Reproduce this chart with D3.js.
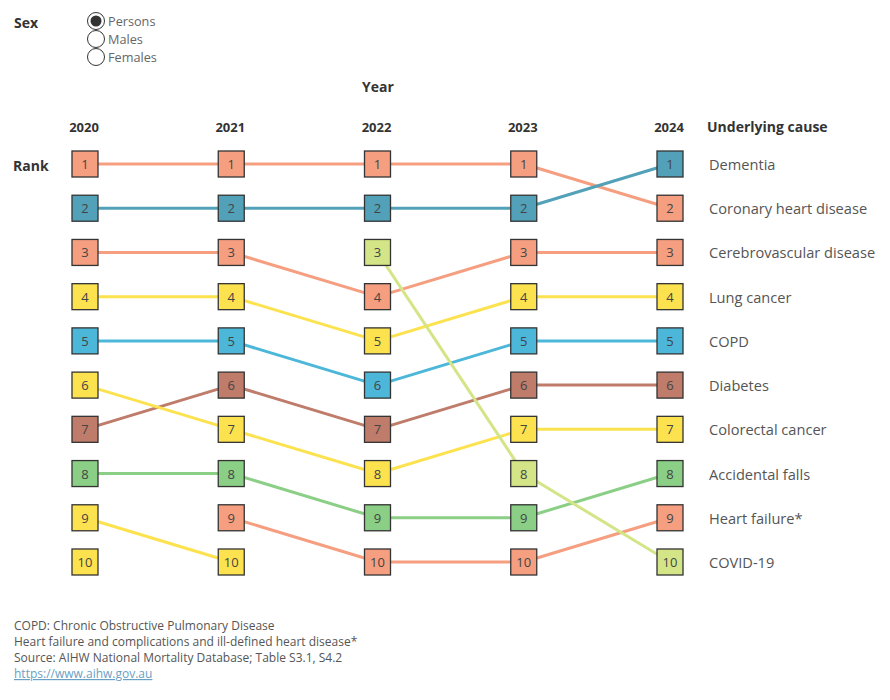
<!DOCTYPE html>
<html>
<head>
<meta charset="utf-8">
<script src="https://cdn.jsdelivr.net/npm/d3@7"></script>
<style>
  body { margin: 0; background: #fff; font-family: "Open Sans", "Noto Sans", sans-serif; }
  svg text { font-family: "Open Sans", "Noto Sans", sans-serif; }
</style>
</head>
<body>
<svg id="chart" width="890" height="700"></svg>
<script>
// years shown as columns
const years = [2020, 2021, 2022, 2023, 2024];
const rankTicks = [1, 2, 3, 4, 5, 6, 7, 8, 9, 10];

// causes and their rank in each year (null = not in top 10)
const causes = [
  "Coronary heart disease", "Dementia", "Cerebrovascular disease", "Lung cancer", "COPD",
  "Diabetes", "Colorectal cancer", "Accidental falls", "Heart failure*", "COVID-19",
  "Prostate cancer", "Pancreatic cancer"
];
const causeRanks = [
  [1, 1, 1, 1, 2],
  [2, 2, 2, 2, 1],
  [3, 3, 4, 3, 3],
  [4, 4, 5, 4, 4],
  [5, 5, 6, 5, 5],
  [7, 6, 7, 6, 6],
  [6, 7, 8, 7, 7],
  [8, 8, 9, 9, 8],
  [null, 9, 10, 10, 9],
  [null, null, 3, 8, 10],
  [9, 10, null, null, null],
  [10, null, null, null, null]
];
const causeColors = [
  "#f59f80", "#52a1b9", "#f59f80", "#fde24f", "#4cb7d9",
  "#bf7c6b", "#fde24f", "#8bcf86", "#f59f80", "#d3e586",
  "#fde24f", "#fde24f"
];

const sexOptions = ["Persons", "Males", "Females"];
const footnotes = [
  "COPD: Chronic Obstructive Pulmonary Disease",
  "Heart failure and complications and ill-defined heart disease*",
  "Source: AIHW National Mortality Database; Table S3.1, S4.2"
];
const link = "https://www.aihw.gov.au";

var svg = d3.select("#chart");

var x = d3.scalePoint()
    .domain(years)
    .range([85, 670]);

var y = d3.scalePoint()
    .domain(rankTicks)
    .range([164, 562]);

var box = 26;

// Sex filter
svg.append("text")
    .attr("x", 14).attr("y", 28)
    .style("font-size", "14px").style("font-weight", "bold").attr("fill", "#333")
    .text("Sex");

var radio = svg.append("g").selectAll("g")
    .data(sexOptions)
    .enter().append("g")
    .attr("transform", function(d, i) { return "translate(96," + (21 + i * 18) + ")"; });
radio.append("circle")
    .attr("r", 8.5)
    .attr("fill", "#fff").attr("stroke", "#333").attr("stroke-width", 1);
radio.filter(function(d, i) { return i == 0; }).append("circle")
    .attr("r", 5.5).attr("fill", "#333");
radio.append("text")
    .attr("x", 12).attr("y", 4.5)
    .style("font-size", "12.7px").attr("fill", "#666")
    .text(function(d) { return d; });

// headers
svg.append("text")
    .attr("x", 378).attr("y", 92)
    .attr("text-anchor", "middle")
    .style("font-size", "14px").style("font-weight", "bold").attr("fill", "#333")
    .text("Year");

svg.append("g").selectAll("text")
    .data(years)
    .enter().append("text")
    .attr("x", function(d) { return x(d) - 1; })
    .attr("y", 132)
    .attr("text-anchor", "middle")
    .style("font-size", "13px").style("font-weight", "bold").attr("fill", "#333")
    .text(function(d) { return d; });

svg.append("text")
    .attr("x", 707).attr("y", 132)
    .style("font-size", "14px").style("font-weight", "bold").attr("fill", "#333")
    .text("Underlying cause");

svg.append("text")
    .attr("x", 13).attr("y", 171)
    .style("font-size", "14px").style("font-weight", "bold").attr("fill", "#333")
    .text("Rank");

// segments between consecutive years
var segments = [];
causes.forEach(function(c, ci) {
    for (var i = 0; i < years.length - 1; i++) {
        var r0 = causeRanks[ci][i], r1 = causeRanks[ci][i + 1];
        if (r0 != null && r1 != null) {
            segments.push({y0: years[i], y1: years[i + 1], r0: r0, r1: r1, color: causeColors[ci]});
        }
    }
});

svg.append("g").selectAll("line")
    .data(segments)
    .enter().append("line")
    .attr("x1", function(d) { return x(d.y0); })
    .attr("y1", function(d) { return y(d.r0); })
    .attr("x2", function(d) { return x(d.y1); })
    .attr("y2", function(d) { return y(d.r1); })
    .attr("stroke", function(d) { return d.color; })
    .attr("stroke-width", 3);

// boxes
var points = [];
causes.forEach(function(c, ci) {
    years.forEach(function(yr, i) {
        var r = causeRanks[ci][i];
        if (r != null) points.push({cause: c, year: yr, rank: r, color: causeColors[ci]});
    });
});

var marks = svg.append("g").selectAll("g")
    .data(points)
    .enter().append("g")
    .attr("transform", function(d) { return "translate(" + x(d.year) + "," + y(d.rank) + ")"; });
marks.append("rect")
    .attr("x", -box / 2).attr("y", -box / 2)
    .attr("width", box).attr("height", box)
    .attr("fill", function(d) { return d.color; })
    .attr("stroke", "#333").attr("stroke-width", 1.3);
marks.append("text")
    .attr("y", 5)
    .attr("text-anchor", "middle")
    .style("font-size", "13px").attr("fill", "#444")
    .text(function(d) { return d.rank; });

// cause labels for last year
var last = years.length - 1;
svg.append("g").selectAll("text")
    .data(causes.filter(function(c, ci) { return causeRanks[ci][last] != null; }))
    .enter().append("text")
    .attr("x", 709)
    .attr("y", function(d) { return y(causeRanks[causes.indexOf(d)][last]) + 6; })
    .style("font-size", "14.6px").attr("fill", "#555")
    .text(function(d) { return d; });

// footnotes
svg.append("g").selectAll("text")
    .data(footnotes)
    .enter().append("text")
    .attr("x", 14)
    .attr("y", function(d, i) { return 630 + i * 16; })
    .style("font-size", "12px").attr("fill", "#555")
    .text(function(d) { return d; });

svg.append("text")
    .attr("x", 14).attr("y", 678)
    .style("font-size", "12px").attr("fill", "#6a9fc4")
    .style("text-decoration", "underline")
    .text(link);
</script>
</body>
</html>
